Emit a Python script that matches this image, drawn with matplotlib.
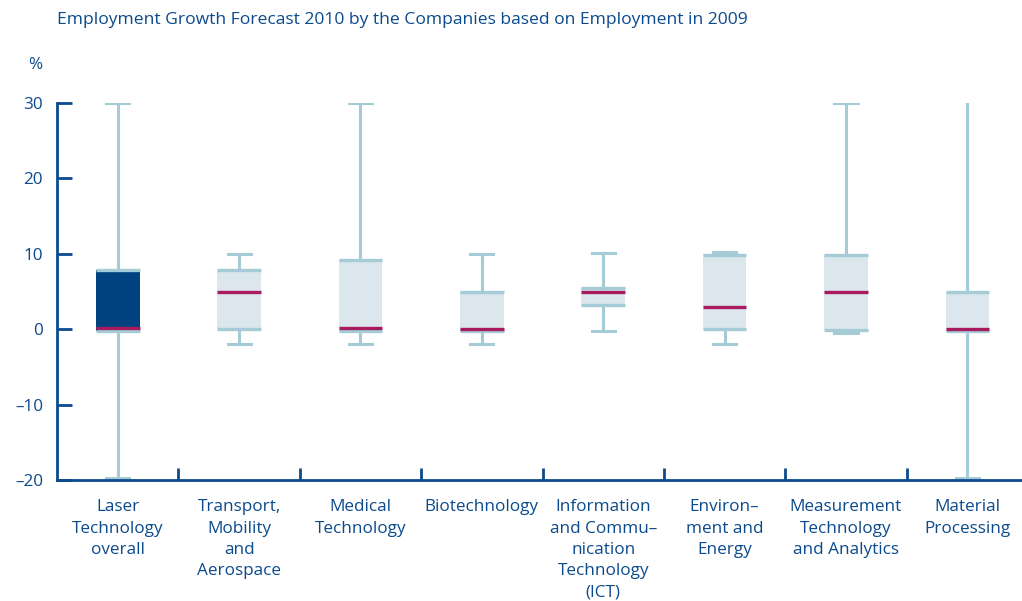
import numpy as np
import matplotlib.pyplot as plt
from matplotlib.ticker import FixedLocator

plt.rcParams['font.family'] = ['Open Sans', 'DejaVu Sans']

# box plot values (in %)
categories = ['Laser\nTechnology\noverall', 'Transport,\nMobility\nand\nAerospace',
              'Medical\nTechnology', 'Biotechnology',
              'Information\nand Commu–\nnication\nTechnology\n(ICT)',
              'Environ–\nment and\nEnergy', 'Measurement\nTechnology\nand Analytics',
              'Material\nProcessing']
whis_hi = [30, 10, 30, 10, 10.1, 10.2, 30, 30.2]
q3_vals = [7.9, 7.8, 9.2, 5.0, 5.4, 9.9, 9.9, 5.0]
medians = [0.2, 5.0, 0.2, 0.0, 5.0, 3.0, 5.0, 0.0]
q1_vals = [-0.2, 0.0, -0.2, -0.2, 3.2, 0.0, -0.1, -0.2]
whis_lo = [-19.8, -2.0, -2.0, -2.0, -0.2, -2.0, -0.5, -19.8]
y_ticks = [-20, -10, 0, 10, 20, 30]
y_labels = ['–20', '–10', '0', '10', '20', '30']

NAVY = '#0b4a8c'
LINE = '#a5cbd6'
FILL = '#dce7ed'
DARK = '#00427f'
MED = '#a81c5f'

fig = plt.figure(figsize=(10.22, 6.01), dpi=100)
ax = fig.add_axes([57 / 1022, 121 / 601, 1 - 57 / 1022, 377 / 601])

pos = np.arange(len(categories))
stats = []
for i in range(len(categories)):
    stats.append(dict(med=medians[i], q1=q1_vals[i], q3=q3_vals[i],
                      whislo=whis_lo[i], whishi=whis_hi[i], fliers=[]))

bp = ax.bxp(stats, positions=pos, widths=0.36, capwidths=0.19, patch_artist=True,
            showfliers=False,
            boxprops=dict(facecolor=FILL, edgecolor='none'),
            whiskerprops=dict(color=LINE, lw=2.2),
            capprops=dict(color=LINE, lw=2.2),
            medianprops=dict(color=MED, lw=2.4, zorder=5))
bp['boxes'][0].set_facecolor(DARK)
for b in bp['boxes']:
    b.set_zorder(2)

# top and bottom edges of boxes
ax.hlines(q3_vals, pos - 0.18, pos + 0.18, color=LINE, lw=2.4, zorder=4)
ax.hlines(q1_vals, pos - 0.18, pos + 0.18, color=LINE, lw=2.4, zorder=4)

ax.set_xlim(-0.5, 7.45)
ax.set_ylim(-20, 30)

for s in ['top', 'right']:
    ax.spines[s].set_visible(False)
for s in ['left', 'bottom']:
    ax.spines[s].set_color(NAVY)
    ax.spines[s].set_linewidth(2)
    ax.spines[s].set_zorder(3)

ax.set_yticks(y_ticks)
ax.set_yticklabels(y_labels)
ax.tick_params(axis='y', direction='in', length=11, width=2, color=NAVY,
               labelcolor=NAVY, labelsize=12.3, pad=10)

ax.set_xticks(pos)
ax.set_xticklabels(categories, linespacing=1.43)
ax.tick_params(axis='x', which='major', length=0, labelcolor=NAVY, labelsize=12.3, pad=14)
ax.xaxis.set_minor_locator(FixedLocator(pos[:-1] + 0.5))
ax.tick_params(axis='x', which='minor', direction='in', length=9, width=2, color=NAVY)

fig.text(57 / 1022, 1 - 20 / 601, 'Employment Growth Forecast 2010 by the Companies based on Employment in 2009',
         color=NAVY, fontsize=12.6, va='center', ha='left')
fig.text(35 / 1022, 1 - 65 / 601, '%', color=NAVY, fontsize=12.3, va='center', ha='center')

fig.savefig('out.png', dpi=100)
